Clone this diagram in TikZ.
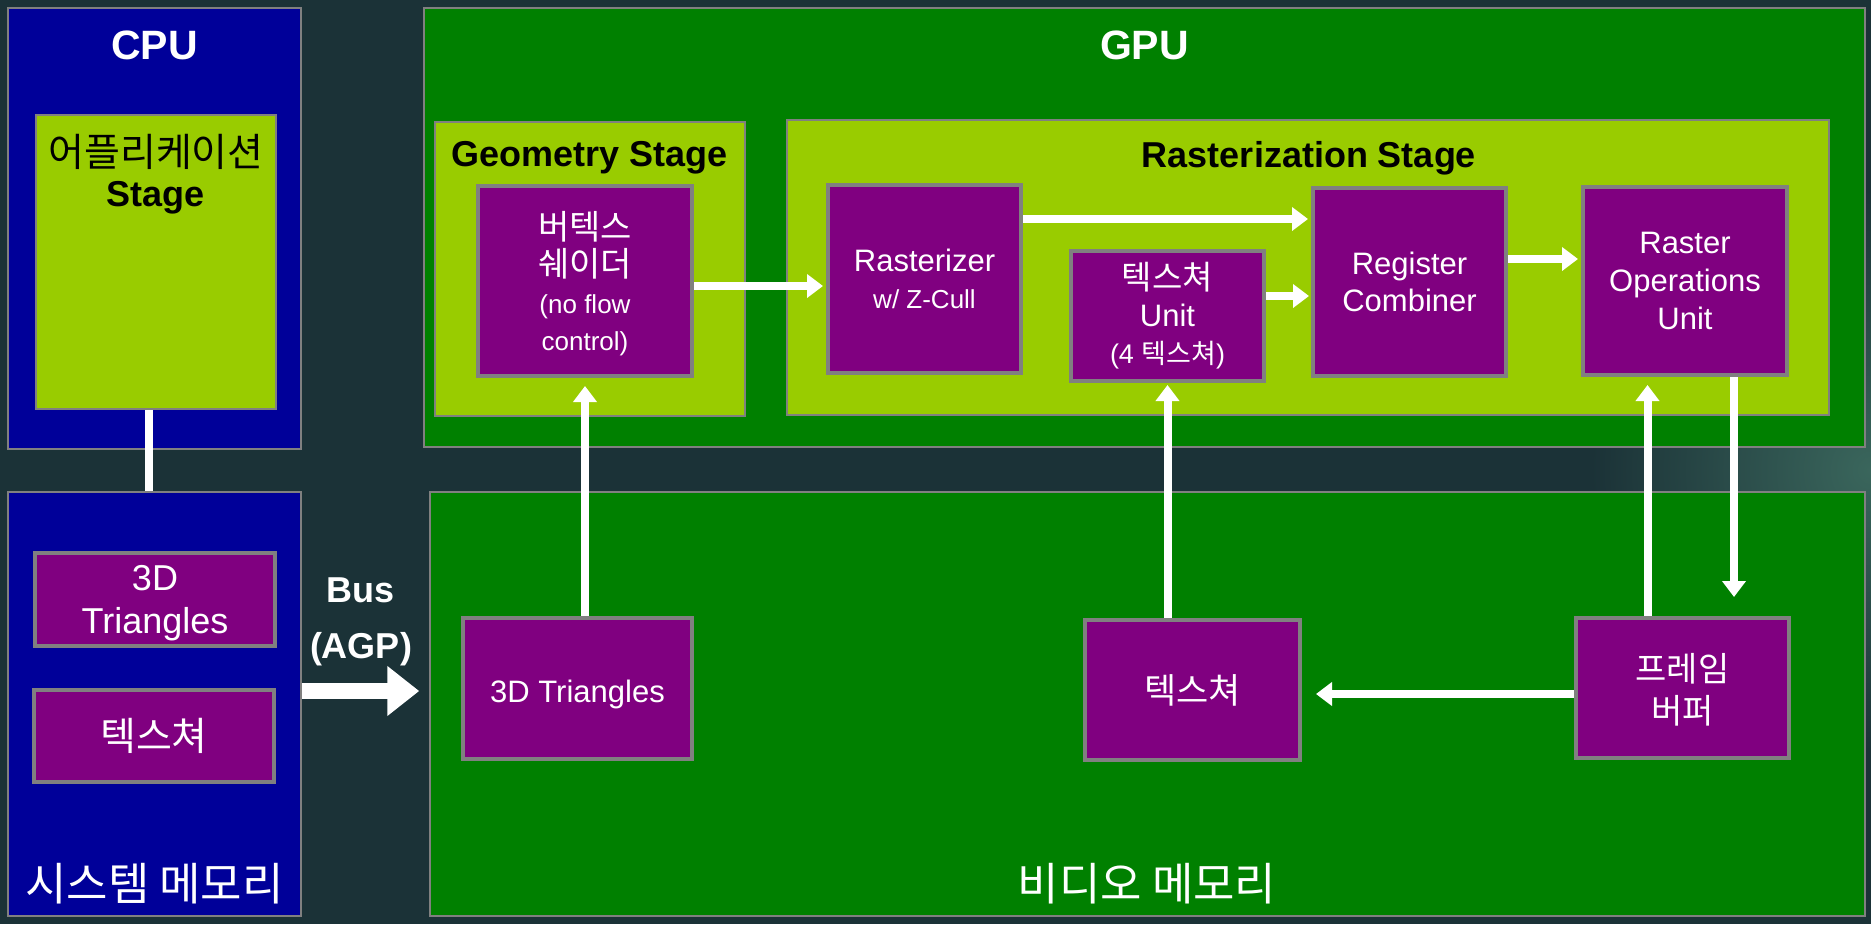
\documentclass[tikz,border=0pt]{standalone}
\usepackage{fontspec}
\setmainfont{Liberation Sans}
\newfontfamily\kr{Noto Sans CJK KR}
\usetikzlibrary{arrows.meta}

\definecolor{cpublue}{HTML}{000099}
\definecolor{gpugreen}{HTML}{008000}
\definecolor{stagelime}{HTML}{99CC00}
\definecolor{unitpurple}{HTML}{800080}
\definecolor{rimgray}{HTML}{808080}
\definecolor{bgdark}{HTML}{1B3237}
\definecolor{bglight}{HTML}{3A665C}

\begin{document}
\begin{tikzpicture}[
    x=1pt, y=-1pt,
    block/.style={draw=rimgray, line width=1.5pt, inner sep=0pt},
    cpubox/.style={block, fill=cpublue},
    gpubox/.style={block, fill=gpugreen},
    stagebox/.style={block, fill=stagelime},
    unitbox/.style={draw=rimgray, line width=4pt, fill=unitpurple, text=white,
        align=center, inner sep=0pt, font=\fontsize{31}{37}\selectfont},
    title/.style={text=white, font=\bfseries\fontsize{41}{49}\selectfont},
    stagetitle/.style={font=\bfseries\fontsize{36}{43}\selectfont},
    memtitle/.style={text=white, font=\kr\fontsize{45}{52}\selectfont},
    flow/.style={draw=white, line width=8pt, -{Triangle[width=23pt,length=16pt]}},
    bus/.style={draw=white, line width=16pt, -{Triangle[width=48pt,length=32pt]}},
    link/.style={draw=white, line width=8pt}
]

    % --- BACKGROUND ---
    \useasboundingbox (0,0) rectangle (1871,924);
    \fill[bgdark] (0,0) rectangle (1871,924);
    \begin{scope}
        \clip (0,0) rectangle (1871,924);
        \shade[inner color=bglight, outer color=bgdark] (1871,470) circle (280);
    \end{scope}

    % --- CPU SIDE ---
    \node[cpubox, minimum width=293pt, minimum height=441pt] (cpu) at (154.5,228.5) {};
    \node[title] (cputitle) at (154.5,45) {CPU};
    \node[stagebox, minimum width=240pt, minimum height=294pt] (app) at (156,262) {};
    \node[anchor=north, align=center, font=\fontsize{36}{40}\selectfont] (apptitle) at (156,131)
        {\kr\fontsize{39}{40}\selectfont 어플리케이션\\\textbf{Stage}};

    % System memory
    \node[cpubox, minimum width=293pt, minimum height=424pt] (sysmem) at (154.5,704) {};
    \node[unitbox, minimum width=240pt, minimum height=93pt, text depth=0pt,
        font=\fontsize{36}{43}\selectfont] (systri) at (155,599.5) {3D\\Triangles};
    \node[unitbox, minimum width=240pt, minimum height=92pt, font=\kr\fontsize{39}{42}\selectfont]
        (systex) at (154,736) {텍스쳐};
    \node[memtitle] (syslabel) at (154.5,884) {시스템 메모리};

    % application stage feeds the system memory
    \coordinate (linktop) at ([xshift=-7pt]app.south);
    \draw[link] (linktop) -- (linktop |- sysmem.north);

    % --- GPU ---
    \node[gpubox, minimum width=1441pt, minimum height=439pt] (gpu) at (1144.5,227.5) {};
    \node[title] (gputitle) at (1144.5,45) {GPU};

    % Geometry stage
    \node[stagebox, minimum width=310pt, minimum height=294pt] (geo) at (590,269) {};
    \node[stagetitle] (geotitle) at (590,158) {Geometry Stage};
    \node[unitbox, minimum width=214pt, minimum height=190pt, text depth=0pt] (vs) at (585,281)
        {\kr\fontsize{34}{33}\selectfont 버텍스\\
         \kr\fontsize{34}{33}\selectfont 쉐이더\\
         \fontsize{26}{32}\selectfont (no flow\\
         \fontsize{26}{33}\selectfont control)};

    % Rasterization stage
    \node[stagebox, minimum width=1042pt, minimum height=295pt] (rstage) at (1308,267.5) {};
    \node[stagetitle] (rstagetitle) at (1309,158) {Rasterization Stage};
    \node[unitbox, minimum width=193pt, minimum height=188pt] (rast) at (924.5,279)
        {Rasterizer\\\fontsize{26}{34}\selectfont w/ Z-Cull};
    \node[unitbox, minimum width=193pt, minimum height=130pt] (tu) at (1167.5,316)
        {\kr\fontsize{33}{37}\selectfont 텍스쳐\\Unit\\\fontsize{27}{35}\selectfont (4 {\kr 텍스쳐})};
    \node[unitbox, minimum width=193pt, minimum height=188pt] (rc) at (1409.5,282) {Register\\Combiner};
    \node[unitbox, minimum width=204pt, minimum height=188pt, font=\fontsize{31}{38}\selectfont]
        (rop) at (1685,281) {Raster\\Operations\\Unit};

    % --- VIDEO MEMORY ---
    \node[gpubox, minimum width=1435pt, minimum height=424pt] (vidmem) at (1147.5,704) {};
    \node[memtitle] (vidlabel) at (1147,884) {비디오 메모리};
    \node[unitbox, minimum width=229pt, minimum height=141pt, text height=28pt, text depth=0pt]
        (vidtri) at (577.5,688.5) {3D Triangles};
    \node[unitbox, minimum width=215pt, minimum height=140pt, font=\kr\fontsize{35}{38}\selectfont]
        (vidtex) at (1192.5,690) {텍스쳐};
    \node[unitbox, minimum width=213pt, minimum height=140pt, text depth=0pt,
        font=\kr\fontsize{34}{42}\selectfont] (fb) at (1682.5,688) {프레임\\버퍼};

    % --- BUS ---
    \node[text=white, align=center, font=\bfseries\fontsize{36}{56}\selectfont] (buslabel) at (361,622) {Bus\\(AGP)};
    \coordinate (busstart) at ([yshift=13pt]sysmem.east);
    \draw[bus, shorten >=10pt] (busstart) -- (busstart -| vidmem.west);

    % --- DATA FLOW ---
    % geometry -> rasterization
    \coordinate (vsout) at ([yshift=-5pt]vs.east);
    \draw[flow, shorten >=3pt] (vsout) -- (vsout -| rast.west);
    % rasterizer -> combiner
    \coordinate (rastout) at ([yshift=-36pt]rast.north east);
    \draw[flow, shorten >=3pt] (rastout) -- (rastout -| rc.west);
    % texture unit -> combiner
    \coordinate (tuout) at ([yshift=20pt]tu.east);
    \draw[flow, shorten >=2pt] (tuout) -- (tuout -| rc.west);
    % combiner -> raster operations
    \coordinate (rcout) at ([yshift=23pt]rc.east);
    \draw[flow, shorten >=3pt] (rcout) -- (rcout -| rop.west);

    % memory fetches
    \draw[flow, shorten >=8pt] (vidtri.north -| vs.south) -- (vs.south);
    \draw[flow, shorten >=2pt] (vidtex.north -| tu.south) -- (tu.south);

    % frame buffer <-> raster operations
    \coordinate (fbup) at ([xshift=-35pt]fb.north);
    \draw[flow, shorten >=8pt] (fbup) -- (fbup |- rop.south);
    \coordinate (ropdown) at ([xshift=49pt]rop.south);
    \draw[flow, shorten >=19pt] (ropdown) -- (ropdown |- fb.north);

    % frame buffer -> texture
    \coordinate (fbout) at ([yshift=-6pt]fb.west);
    \draw[flow, shorten >=14pt] (fbout) -- (fbout -| vidtex.east);

\end{tikzpicture}
\end{document}
